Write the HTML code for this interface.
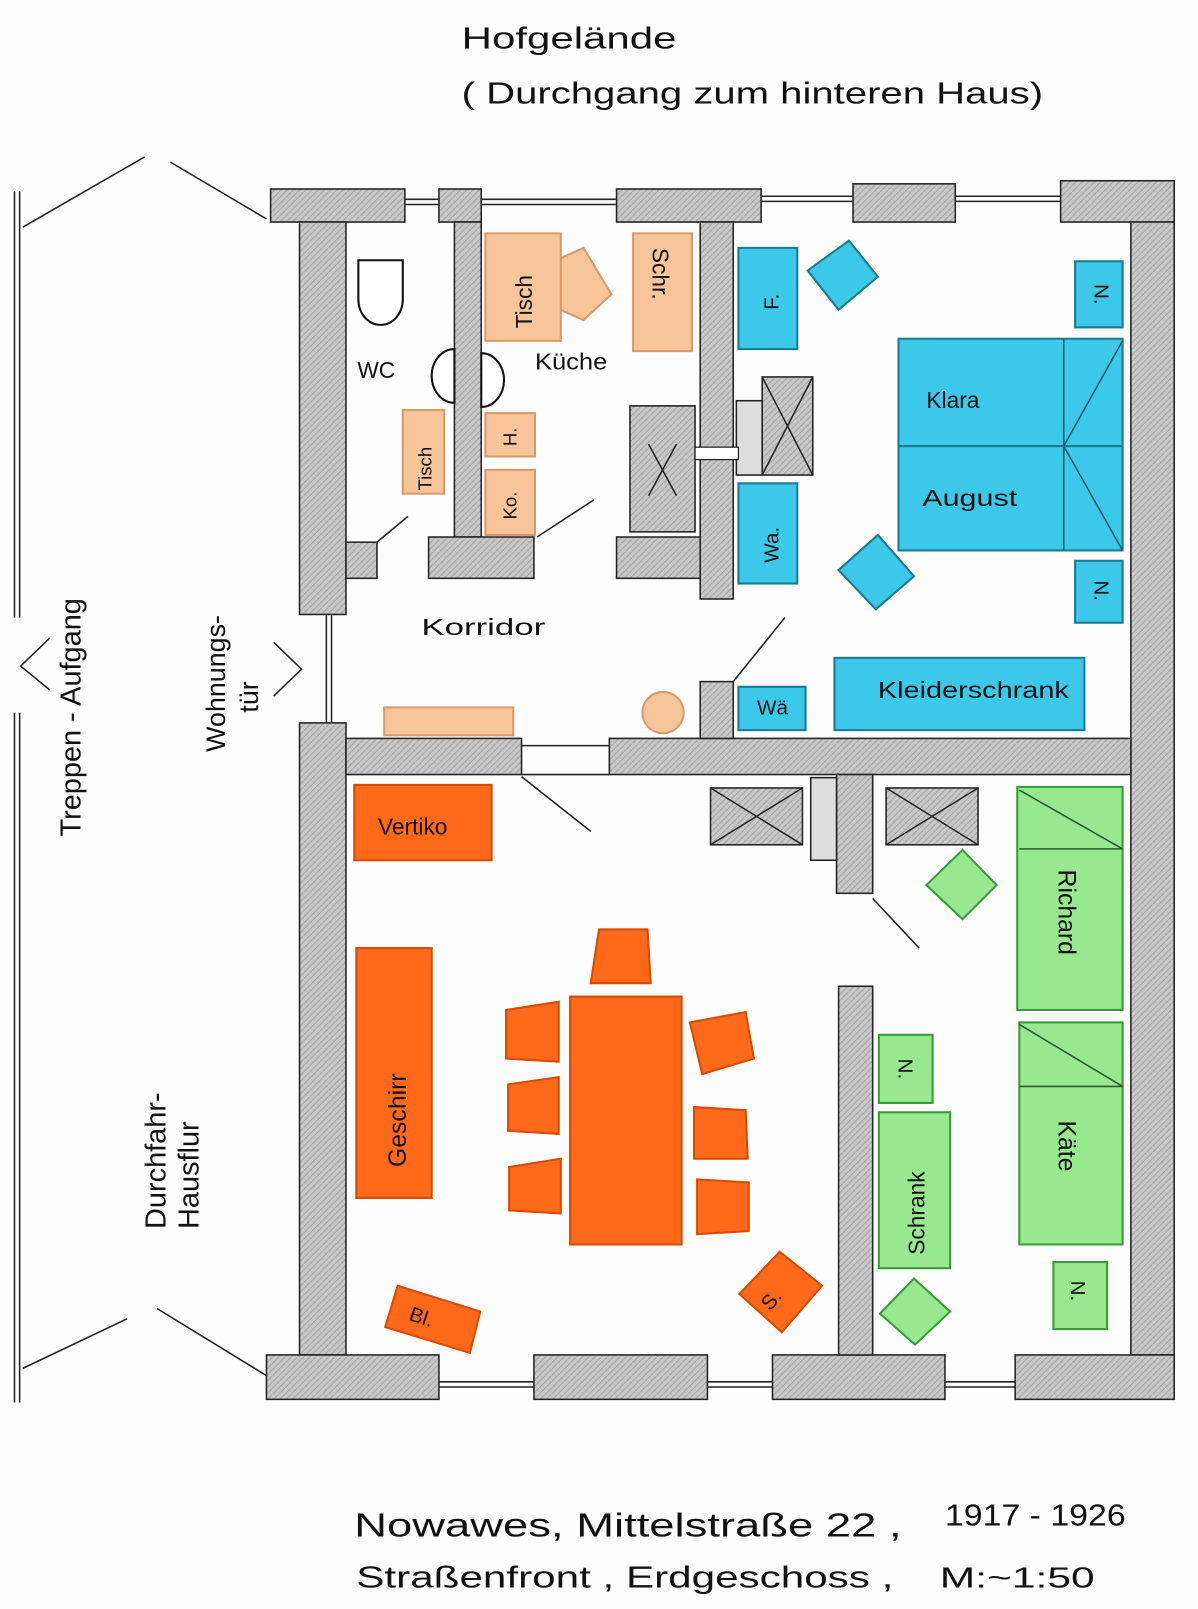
<!DOCTYPE html>
<html><head><meta charset="utf-8"><style>
html,body{margin:0;padding:0;background:#fff;}
svg{display:block;}
text{font-family:"Liberation Sans",sans-serif;fill:#111;}
</style></head><body>
<svg width="1198" height="1609" viewBox="0 0 1160 1558" xmlns="http://www.w3.org/2000/svg">
<rect width="1160" height="1558" fill="#fdfdfd"/>
<defs>
<pattern id="g" width="6" height="6" patternUnits="userSpaceOnUse">
<rect width="6" height="6" fill="#c8c8c8"/><path d="M0 6L6 0" stroke="#a0a0a0" stroke-width="1"/>
</pattern>
</defs>
<text x="447" y="47" font-size="30" textLength="208" lengthAdjust="spacingAndGlyphs">Hofgelände</text>
<text x="447" y="100" font-size="30" textLength="563" lengthAdjust="spacingAndGlyphs">( Durchgang zum hinteren Haus)</text>

<g stroke="#222" stroke-width="1.5" fill="none">
<line x1="14" y1="185" x2="14" y2="598"/><line x1="19" y1="185" x2="19" y2="598"/>
<line x1="14" y1="690" x2="14" y2="1358"/><line x1="19" y1="690" x2="19" y2="1358"/>
<line x1="22" y1="220" x2="140" y2="152"/><line x1="165" y1="157" x2="258" y2="212"/>
<line x1="22" y1="1325" x2="123" y2="1277"/><line x1="152" y1="1267" x2="258" y2="1332"/>
<polyline points="48,618 20,645 48,668"/>
<polyline points="265,622 292,648 265,674"/>
<line x1="392" y1="193" x2="425" y2="193"/><line x1="392" y1="198" x2="425" y2="198"/>
<line x1="466" y1="193" x2="597" y2="193"/><line x1="466" y1="198" x2="597" y2="198"/>
<line x1="737" y1="190" x2="826" y2="190"/><line x1="737" y1="195" x2="826" y2="195"/>
<line x1="925" y1="190" x2="1027" y2="190"/><line x1="925" y1="195" x2="1027" y2="195"/>
<line x1="425" y1="1338" x2="517" y2="1338"/><line x1="425" y1="1343" x2="517" y2="1343"/>
<line x1="685" y1="1338" x2="748" y2="1338"/><line x1="685" y1="1343" x2="748" y2="1343"/>
<line x1="915" y1="1338" x2="983" y2="1338"/><line x1="915" y1="1343" x2="983" y2="1343"/>
<line x1="316" y1="595" x2="316" y2="700"/><line x1="321" y1="595" x2="321" y2="700"/>
<line x1="505" y1="722" x2="590" y2="722"/><line x1="505" y1="750" x2="590" y2="750"/>
</g>
<text transform="translate(78,810) rotate(-90)" font-size="28">Treppen - Aufgang</text>
<text transform="translate(218,728) rotate(-90)" font-size="26">Wohnungs-</text>
<text transform="translate(250,690) rotate(-90)" font-size="26">tür</text>
<text transform="translate(160,1190) rotate(-90)" font-size="28">Durchfahr-</text>
<text transform="translate(192,1190) rotate(-90)" font-size="28">Hausflur</text>

<g fill="url(#g)" stroke="#222" stroke-width="1.5">
<rect x="262" y="183" width="130" height="32"/>
<rect x="425" y="183" width="41" height="32"/>
<rect x="597" y="183" width="140" height="32"/>
<rect x="826" y="178" width="99" height="37"/>
<rect x="1027" y="175" width="110" height="40"/>
<rect x="290" y="215" width="45" height="380"/>
<rect x="290" y="700" width="45" height="612"/>
<rect x="1095" y="215" width="42" height="1097"/>
<rect x="258" y="1312" width="167" height="43"/>
<rect x="517" y="1312" width="168" height="43"/>
<rect x="748" y="1312" width="167" height="43"/>
<rect x="983" y="1312" width="154" height="43"/>
<rect x="335" y="715" width="170" height="35"/>
<rect x="590" y="715" width="505" height="35"/>
<rect x="440" y="215" width="26" height="305"/>
<rect x="415" y="520" width="102" height="40"/>
<rect x="678" y="215" width="32" height="365"/>
<rect x="597" y="520" width="81" height="40"/>
<rect x="335" y="525" width="30" height="35"/>
<rect x="678" y="660" width="32" height="55"/>
<rect x="812" y="955" width="33" height="357"/>
<rect x="810" y="750" width="35" height="115"/>
</g>

<path d="M347 252 H390 V290 A21 24 0 0 1 347 290 Z" fill="#fff" stroke="#111" stroke-width="2"/>
<path d="M440 338 A22 26 0 0 0 440 390 Z" fill="#fff" stroke="#111" stroke-width="2"/>
<path d="M466 342 A22 26 0 0 1 466 394 Z" fill="#fff" stroke="#111" stroke-width="2"/>
<text x="346" y="366" font-size="22">WC</text>
<text x="518" y="358" font-size="22" textLength="70" lengthAdjust="spacingAndGlyphs">Küche</text>
<g fill="#f8c49a" stroke="#d89a6a" stroke-width="2">
<rect x="390" y="397" width="40" height="81"/>
<rect x="470" y="226" width="73" height="104"/>
<polygon points="543,250 565,240 592,285 565,310 543,300"/>
<rect x="613" y="226" width="57" height="114"/>
<rect x="470" y="400" width="48" height="42"/>
<rect x="470" y="455" width="48" height="63"/>
<rect x="372" y="685" width="125" height="27"/>
<circle cx="642" cy="690" r="20"/>
</g>
<text transform="translate(418,475) rotate(-90)" font-size="18">Tisch</text>
<text transform="translate(515,318) rotate(-90)" font-size="22">Tisch</text>
<text transform="translate(632,240) rotate(90)" font-size="22">Schr.</text>
<text transform="translate(500,432) rotate(-90)" font-size="18">H.</text>
<text transform="translate(500,503) rotate(-90)" font-size="18">Ko.</text>
<rect x="610" y="393" width="63" height="122" fill="url(#g)" stroke="#222" stroke-width="1.5"/>
<path d="M628 430 L655 480 M655 430 L628 480" stroke="#222" stroke-width="1.5"/>
<text x="408" y="615" font-size="22" textLength="120" lengthAdjust="spacingAndGlyphs">Korridor</text>
<g stroke="#222" stroke-width="1.5">
<line x1="365" y1="525" x2="395" y2="500"/><line x1="520" y1="520" x2="575" y2="484"/>
<line x1="710" y1="660" x2="760" y2="598"/><line x1="505" y1="752" x2="572" y2="805"/>
<line x1="845" y1="870" x2="890" y2="918"/>
</g>

<g fill="#3cc8e8" stroke="#1a7a90" stroke-width="2">
<rect x="715" y="240" width="57" height="98"/>
<polygon points="782,262 822,233 850,268 812,300"/>
<rect x="1041" y="253" width="46" height="64"/>
<rect x="870" y="328" width="217" height="104"/>
<rect x="870" y="432" width="217" height="101"/>
<rect x="715" y="468" width="57" height="97"/>
<polygon points="812,552 850,518 885,558 848,590"/>
<rect x="1041" y="543" width="46" height="60"/>
<rect x="808" y="637" width="242" height="70"/>
<rect x="715" y="665" width="65" height="42"/>
</g>
<g stroke="#1a5a6a" stroke-width="1.5" fill="none">
<line x1="1030" y1="328" x2="1030" y2="533"/>
<polyline points="1087,330 1030,432 1087,533"/>
</g>
<text transform="translate(754,300) rotate(-90)" font-size="20">F.</text>
<text transform="translate(1060,275) rotate(90)" font-size="20">N.</text>
<text x="897" y="395" font-size="22">Klara</text>
<text x="893" y="490" font-size="22" textLength="92" lengthAdjust="spacingAndGlyphs">August</text>
<text transform="translate(754,545) rotate(-90)" font-size="20">Wa.</text>
<text transform="translate(1060,562) rotate(90)" font-size="20">N.</text>
<text x="850" y="676" font-size="22" textLength="185" lengthAdjust="spacingAndGlyphs">Kleiderschrank</text>
<text x="733" y="692" font-size="20">Wä</text>
<rect x="738" y="365" width="49" height="95" fill="url(#g)" stroke="#222" stroke-width="1.5"/>
<path d="M738 365 L787 460 M787 365 L738 460" stroke="#222" stroke-width="1.5"/>
<rect x="713" y="388" width="25" height="72" fill="#ddd" stroke="#222" stroke-width="1.5"/>
<rect x="673" y="433" width="42" height="12" fill="#fff" stroke="#222" stroke-width="1.2"/>

<g fill="#ff6a1a" stroke="#d84a00" stroke-width="2">
<rect x="343" y="760" width="133" height="73"/>
<rect x="345" y="918" width="73" height="242"/>
<rect x="552" y="965" width="108" height="240"/>
<polygon points="580,900 627,900 630,952 572,952"/>
<polygon points="490,978 541,970 541,1028 490,1025"/>
<polygon points="492,1050 541,1043 541,1098 492,1095"/>
<polygon points="493,1130 543,1122 543,1175 493,1172"/>
<polygon points="668,990 722,980 730,1025 680,1040"/>
<polygon points="672,1072 722,1075 724,1122 672,1122"/>
<polygon points="675,1142 725,1145 725,1192 675,1195"/>
<polygon points="385,1245 465,1270 455,1310 373,1285"/>
<polygon points="716,1253 755,1212 796,1245 757,1290"/>
</g>
<text x="366" y="808" font-size="22">Vertiko</text>
<text transform="translate(393,1130) rotate(-90)" font-size="24">Geschirr</text>
<text transform="translate(395,1278) rotate(18)" font-size="20">Bl.</text>
<text transform="translate(746,1270) rotate(-50)" font-size="20">S.</text>
<rect x="688" y="763" width="89" height="55" fill="url(#g)" stroke="#222" stroke-width="1.5"/>
<path d="M688 763 L777 818 M777 763 L688 818" stroke="#222" stroke-width="1.5"/>
<rect x="858" y="763" width="89" height="55" fill="url(#g)" stroke="#222" stroke-width="1.5"/>
<path d="M858 763 L947 818 M947 763 L858 818" stroke="#222" stroke-width="1.5"/>
<rect x="785" y="753" width="25" height="80" fill="#ddd" stroke="#222" stroke-width="1.5"/>
<g fill="#98e890" stroke="#3a9a3a" stroke-width="2">
<polygon points="897,857 932,823 965,857 932,890"/>
<rect x="985" y="762" width="102" height="216"/>
<rect x="987" y="990" width="100" height="215"/>
<rect x="851" y="1002" width="52" height="66"/>
<rect x="851" y="1077" width="69" height="151"/>
<rect x="1020" y="1222" width="52" height="65"/>
<polygon points="852,1272 885,1238 920,1270 886,1302"/>
</g>
<g stroke="#2a5a2a" stroke-width="1.5">
<line x1="987" y1="822" x2="1087" y2="822"/><line x1="987" y1="765" x2="1087" y2="822"/>
<line x1="987" y1="1052" x2="1087" y2="1052"/><line x1="987" y1="992" x2="1087" y2="1052"/>
</g>
<text transform="translate(1025,842) rotate(90)" font-size="24">Richard</text>
<text transform="translate(1025,1085) rotate(90)" font-size="24">Käte</text>
<text transform="translate(870,1025) rotate(90)" font-size="20">N.</text>
<text transform="translate(895,1215) rotate(-90)" font-size="22">Schrank</text>
<text transform="translate(1037,1240) rotate(90)" font-size="20">N.</text>

<text x="343" y="1488" font-size="32" textLength="530" lengthAdjust="spacingAndGlyphs">Nowawes, Mittelstraße 22 ,</text>
<text x="915" y="1477" font-size="30" textLength="175" lengthAdjust="spacingAndGlyphs">1917 - 1926</text>
<text x="345" y="1537" font-size="30" textLength="520" lengthAdjust="spacingAndGlyphs">Straßenfront , Erdgeschoss ,</text>
<text x="910" y="1537" font-size="28" textLength="150" lengthAdjust="spacingAndGlyphs">M:~1:50</text>
</svg>
</body></html>
